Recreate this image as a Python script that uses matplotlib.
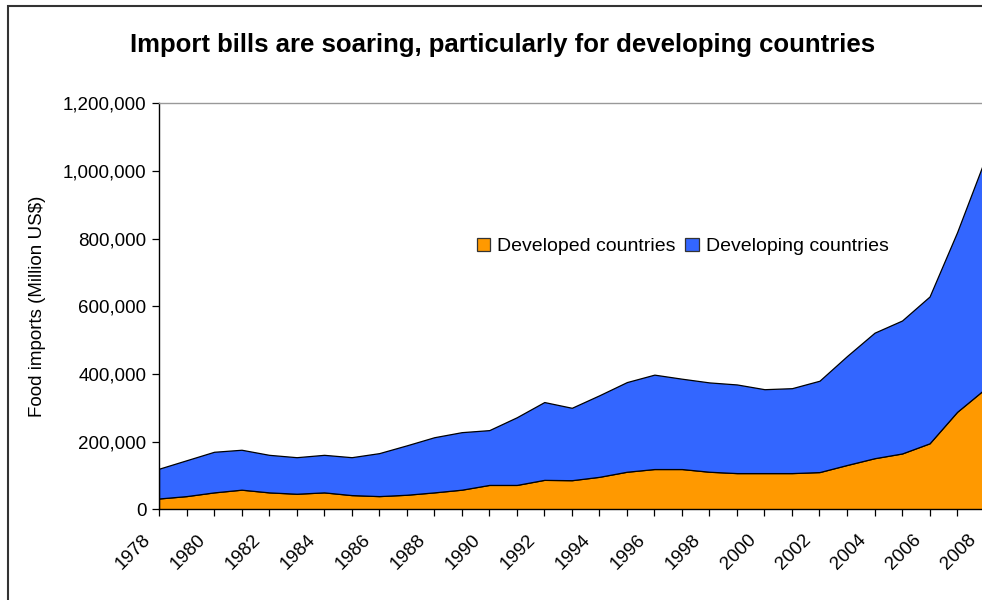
import matplotlib
matplotlib.use("Agg")
import matplotlib.pyplot as plt
from matplotlib.patches import Rectangle, Patch
from matplotlib.ticker import FuncFormatter
from matplotlib.transforms import ScaledTranslation

plt.rcParams["font.family"] = ["Liberation Sans", "DejaVu Sans"]

# food imports, million US$
years = list(range(1978, 2009))
total = [120000, 145000, 170000, 176000, 161000, 154000, 161000, 154000,
         166000, 189000, 213000, 228000, 234000, 272000, 317000, 300000,
         337000, 376000, 398000, 386000, 375000, 369000, 355000, 358000,
         380000, 453000, 522000, 558000, 629000, 819000, 1032000]
developed = [32000, 39000, 50000, 58000, 50000, 46000, 50000, 42000,
             39000, 43000, 50000, 58000, 72000, 72000, 87000, 86000,
             96000, 111000, 119000, 119000, 111000, 107000, 107000, 107000,
             110000, 131000, 151000, 165000, 195000, 288000, 355000]
developing = [t - d for t, d in zip(total, developed)]

labels = ["Developed countries", "Developing countries"]
colors = ["#FF9900", "#3366FF"]

fig = plt.figure(figsize=(9.82, 6.0), dpi=100)
ax = fig.add_axes([159 / 982, 90.7 / 600, (984.6 - 159) / 982, 406 / 600])

ax.stackplot(years, developed, developing, colors=colors,
             edgecolor="black", linewidth=0.9)

ax.set_xlim(1978, 2008)
ax.set_ylim(0, 1200000)
ax.set_yticks(range(0, 1200001, 200000))
ax.yaxis.set_major_formatter(FuncFormatter(lambda v, p: f"{int(v):,}"))
ax.set_xticks(years)
ax.set_xticklabels([str(y) if (y - 1978) % 2 == 0 else "" for y in years],
                   rotation=45, ha="right", va="top", rotation_mode="anchor")
ax.tick_params(axis="both", direction="out", length=5, width=0.9,
               labelsize=13.5, color="black")
ax.tick_params(axis="x", pad=11)
ax.tick_params(axis="y", pad=4)

# shift the slanted year labels to the left, like the original
shift = ScaledTranslation(-12.5 / 72, 0, fig.dpi_scale_trans)
for lab in ax.get_xticklabels():
    lab.set_transform(lab.get_transform() + shift)

for s in ["left", "bottom"]:
    ax.spines[s].set_color("black")
    ax.spines[s].set_linewidth(1.0)
ax.spines["top"].set_color("#999999")
ax.spines["top"].set_linewidth(1.0)
ax.spines["right"].set_visible(False)

ax.set_ylabel("Food imports (Million US$)", fontsize=13.5, labelpad=12)

fig.text(503 / 982, 1 - 45 / 600,
         "Import bills are soaring, particularly for developing countries",
         ha="center", va="center", fontsize=18.5, fontweight="bold")

handles = [Patch(facecolor=c, edgecolor="#333333", linewidth=0.9) for c in colors]
fig.legend(handles, labels, loc="center left", ncol=2, frameon=False,
           bbox_to_anchor=(467 / 982, 1 - 246.5 / 600), fontsize=14,
           handlelength=0.7, handleheight=0.7, handletextpad=0.35,
           columnspacing=0.5, borderpad=0)

# chart border (cropped at right and bottom in the original)
fig.patches.append(Rectangle((8 / 982, -0.1), 1.2, 1.1 - 6 / 600,
                             transform=fig.transFigure, fill=False,
                             edgecolor="#333333", linewidth=1.5))

fig.savefig("out.png", dpi=100)
